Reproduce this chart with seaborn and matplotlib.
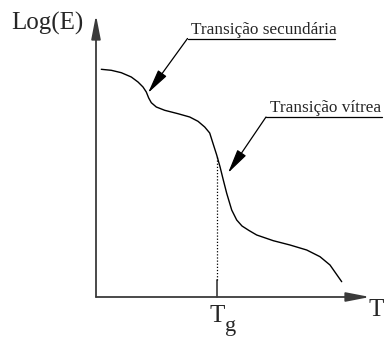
import matplotlib
matplotlib.use("Agg")
import matplotlib.pyplot as plt
import seaborn as sns
import pandas as pd

# Modulus curve: temperature (arbitrary units) vs log of the modulus
temperature = [0.53, 1.53, 2.53, 3.53, 4.2, 4.7, 5.03, 5.27, 5.53, 6.03, 6.87,
               8.2, 9.37, 10.2, 10.87, 11.37, 11.75, 12.07, 12.4, 12.73, 13.07,
               13.57, 14.07, 14.6, 15.3, 16.07, 17.73, 19.4, 21.07, 22.4, 23.4,
               24.57]
log_modulus = [22.77, 22.67, 22.43, 22.0, 21.5, 21.0, 20.5, 19.9, 19.43, 19.0,
               18.67, 18.33, 18.0, 17.57, 17.0, 16.4, 15.2, 14.2, 13.03, 11.7,
               10.37, 8.7, 7.7, 7.1, 6.65, 6.2, 5.63, 5.2, 4.7, 4.03, 3.2, 1.53]

tg_value = 12.13          # glass transition temperature
tg_log_modulus = 14.05    # curve height at Tg

axis_labels = ["Log(E)", "T"]
annotations = ["Transição secundária", "Transição vítrea"]
# (arrow tip x, arrow tip y) on the curve for each annotation
annotation_tips = [(5.2, 20.4), (13.2, 12.4)]
annotation_anchor = [(9.15, 25.85), (17.0, 18.0)]
annotation_line_end = [23.9, 28.6]

sns.set_style("white")
plt.rcParams["font.family"] = ["Liberation Serif", "DejaVu Serif"]

fig = plt.figure(figsize=(3.84, 3.38), dpi=100)
ax = fig.add_axes([0, 0, 1, 1])
ax.set_xlim(-9.6, 28.8)
ax.set_ylim(-4.1, 29.7)
ax.axis("off")

df = pd.DataFrame({"T": temperature, "logE": log_modulus})
sns.lineplot(data=df, x="T", y="logE", sort=False, color="black", lw=1.0,
             ax=ax, legend=False)

axis_color = "#3a3a3a"
# Axes with arrowheads
ax.annotate("", xy=(0, 28.2), xytext=(0, 0),
            arrowprops=dict(arrowstyle="-|>,head_length=0.72,head_width=0.14",
                            mutation_scale=20, lw=1.3, color=axis_color,
                            shrinkA=0, shrinkB=0))
ax.annotate("", xy=(27.4, 0), xytext=(0, 0),
            arrowprops=dict(arrowstyle="-|>,head_length=0.72,head_width=0.14",
                            mutation_scale=20, lw=1.3, color=axis_color,
                            shrinkA=0, shrinkB=0))

# Tg tick and dotted guide
ax.plot([tg_value, tg_value], [0, 1.7], color=axis_color, lw=1.2)
ax.plot([tg_value, tg_value], [1.7, tg_log_modulus], color="black", lw=0.9,
        ls=(0, (1, 1.5)))

# Axis labels
ax.text(-8.45, 26.7, axis_labels[0], fontsize=18, va="baseline", ha="left")
ax.text(27.25, -1.9, axis_labels[1], fontsize=18, va="baseline", ha="left")
ax.text(11.4, -2.47, "T", fontsize=18, va="baseline", ha="left")
ax.text(12.9, -3.35, "g", fontsize=16, va="baseline", ha="left")

# Leader annotations
for label, tip, anchor, xend in zip(annotations, annotation_tips,
                                    annotation_anchor, annotation_line_end):
    ax.plot([anchor[0], xend], [anchor[1], anchor[1]], color="black", lw=0.9)
    ax.annotate("", xy=tip, xytext=anchor,
                arrowprops=dict(arrowstyle="-|>,head_length=0.75,head_width=0.16",
                                mutation_scale=20, lw=0.9, color="black",
                                shrinkA=0, shrinkB=0))
    ax.text(anchor[0] + 0.35, anchor[1] + 0.5, label, fontsize=12.4,
            va="baseline", ha="left")

fig.savefig("out.png", dpi=100)
